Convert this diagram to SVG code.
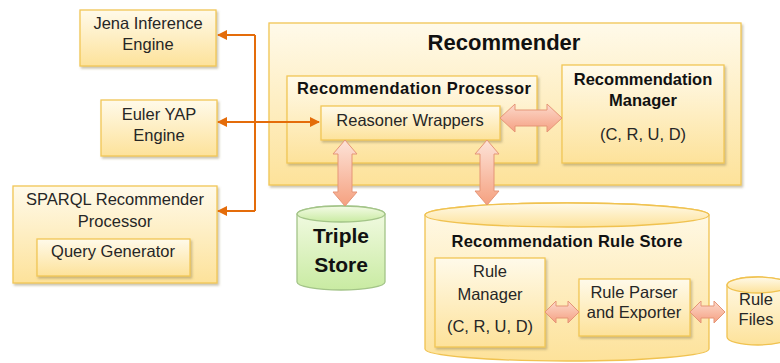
<svg xmlns="http://www.w3.org/2000/svg" width="780" height="363" viewBox="0 0 780 363">
<defs>
<linearGradient id="gBox" x1="0" y1="0" x2="0" y2="1">
<stop offset="0" stop-color="#fffaea"/>
<stop offset="1" stop-color="#fde29a"/>
</linearGradient>
<linearGradient id="gGreen" x1="0" y1="0" x2="0" y2="1">
<stop offset="0" stop-color="#f4fbe6"/>
<stop offset="1" stop-color="#c9eba2"/>
</linearGradient>
<linearGradient id="gArrowV" x1="0" y1="0" x2="0" y2="1">
<stop offset="0" stop-color="#fde3d8"/>
<stop offset="1" stop-color="#f5a180"/>
</linearGradient>
<linearGradient id="gArrowH" x1="0" y1="0" x2="0" y2="1">
<stop offset="0" stop-color="#fcd9cb"/>
<stop offset="1" stop-color="#f5a082"/>
</linearGradient>
<filter id="sh" x="-10%" y="-10%" width="120%" height="130%">
<feDropShadow dx="1.5" dy="2" stdDeviation="1.2" flood-color="#8a7a50" flood-opacity="0.45"/>
</filter>
<marker id="ah" viewBox="0 0 10 10" refX="9" refY="5" markerWidth="10" markerHeight="10" markerUnits="userSpaceOnUse" orient="auto-start-reverse">
<path d="M0,0 L10,5 L0,10 Z" fill="#e46c0a"/>
</marker>
<style>
.box{fill:url(#gBox);stroke:#f2c655;stroke-width:1.3;filter:url(#sh)}
.cyl{fill:url(#gBox);stroke:#f0c250;stroke-width:1.3}
.green{fill:url(#gGreen);stroke:#a3c488;stroke-width:1.3}
.t{font-family:"Liberation Sans",Arial,sans-serif;font-size:16.5px;fill:#262626;text-anchor:middle}
.b{font-weight:bold;fill:#111}
.orange{fill:none;stroke:#e46c0a;stroke-width:2}
.blk{stroke:#e59576;stroke-width:1}
</style>
</defs>

<g id="recommender">
<rect class="box" x="269" y="23" width="472" height="162"/>
<text class="t b" x="504" y="50" style="font-size:22px">Recommender</text>
</g>

<g id="recommendation-processor">
<rect class="box" x="287" y="76" width="250" height="87"/>
<text class="t b" x="297" y="94" style="text-anchor:start" textLength="234" lengthAdjust="spacing">Recommendation Processor</text>
</g>

<g id="reasoner-wrappers">
<rect class="box" x="321" y="106" width="179" height="34"/>
<text class="t" x="410" y="126">Reasoner Wrappers</text>
</g>

<g id="recommendation-manager">
<rect class="box" x="562" y="65" width="162" height="98"/>
<text class="t b" x="643" y="85">Recommendation</text>
<text class="t b" x="643" y="106">Manager</text>
<text class="t" x="643" y="140">(C, R, U, D)</text>
</g>

<g id="jena">
<rect class="box" x="80" y="10" width="136" height="56"/>
<text class="t" x="148" y="29">Jena Inference</text>
<text class="t" x="148" y="50">Engine</text>
</g>

<g id="euler">
<rect class="box" x="101" y="100" width="116" height="56"/>
<text class="t" x="159" y="120">Euler YAP</text>
<text class="t" x="159" y="141">Engine</text>
</g>

<g id="sparql">
<rect class="box" x="13" y="186" width="204" height="97"/>
<text class="t" x="115" y="205">SPARQL Recommender</text>
<text class="t" x="115" y="227">Processor</text>
</g>

<g id="query-generator">
<rect class="box" x="37" y="239" width="153" height="37"/>
<text class="t" x="113" y="257">Query Generator</text>
</g>

<g id="triple-store">
<path class="green" d="M297,214 L297,282 A44,8 0 0 0 385,282 L385,214 A44,8 0 0 0 297,214 Z"/>
<ellipse class="green" cx="341" cy="214" rx="44" ry="8"/>
<text class="t b" x="341" y="243" style="font-size:21px">Triple</text>
<text class="t b" x="341" y="272" style="font-size:21px">Store</text>
</g>

<g id="rule-store">
<path class="cyl" d="M425,215 L425,349 A142,12 0 0 0 709,349 L709,215 A142,12 0 0 0 425,215 Z"/>
<ellipse class="cyl" cx="567" cy="215" rx="142" ry="12"/>
<text class="t b" x="567" y="247" textLength="231" lengthAdjust="spacing">Recommendation Rule Store</text>
</g>

<g id="rule-manager">
<rect class="box" x="435" y="258" width="110" height="89"/>
<text class="t" x="490" y="277">Rule</text>
<text class="t" x="490" y="300">Manager</text>
<text class="t" x="490" y="332">(C, R, U, D)</text>
</g>

<g id="rule-parser">
<rect class="box" x="579" y="279" width="111" height="57"/>
<text class="t" x="634" y="298">Rule Parser</text>
<text class="t" x="634" y="318">and Exporter</text>
</g>

<g id="rule-files">
<path class="cyl" d="M727,285 L727,337 A31,8 0 0 0 789,337 L789,285 A31,8 0 0 0 727,285 Z"/>
<ellipse class="cyl" cx="758" cy="285" rx="31" ry="8"/>
<text class="t" x="756" y="305">Rule</text>
<text class="t" x="756" y="325">Files</text>
</g>

<g id="connectors">
<path class="orange" d="M255,35 L255,211"/>
<path class="orange" d="M255,35 L218,35" marker-end="url(#ah)"/>
<path class="orange" d="M255,211 L218,211" marker-end="url(#ah)"/>
<path class="orange" d="M218,122 L319,122" marker-start="url(#ah)" marker-end="url(#ah)"/>
<path class="blk" fill="url(#gArrowH)" d="M500,118 L515,104 L515,110 L547,110 L547,104 L562,118 L547,132 L547,126 L515,126 L515,132 Z"/>
<path class="blk" fill="url(#gArrowV)" d="M345,140 L357,154 L352,154 L352,192 L357,192 L345,206 L333,192 L338,192 L338,154 L333,154 Z"/>
<path class="blk" fill="url(#gArrowV)" d="M487,140 L499,154 L494,154 L494,191 L499,191 L487,205 L475,191 L480,191 L480,154 L475,154 Z"/>
<path class="blk" fill="url(#gArrowH)" d="M545,312 L556,301 L556,306 L568,306 L568,301 L579,312 L568,323 L568,318 L556,318 L556,323 Z"/>
<path class="blk" fill="url(#gArrowH)" d="M690,312 L701,301 L701,306 L714,306 L714,301 L725,312 L714,323 L714,318 L701,318 L701,323 Z"/>
</g>
</svg>
